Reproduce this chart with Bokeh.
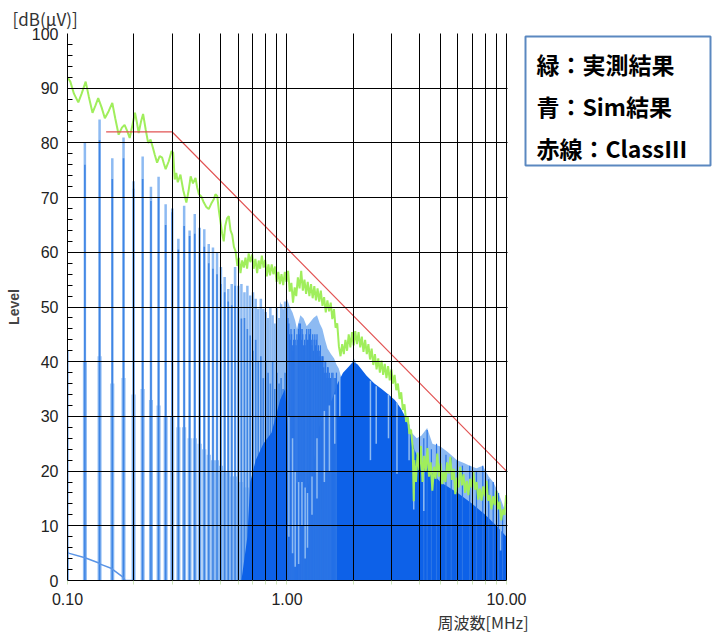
from bokeh.plotting import figure
from bokeh.models import (Range1d, FixedTicker, PrintfTickFormatter, Title, Label, BoxAnnotation)
from bokeh.embed import file_html
from bokeh.resources import INLINE

# ---------------- data ----------------
limit_freq = [0.15, 0.30, 10.0]
limit_db = [82.0, 82.0, 20.0]

meas_freq = [0.100, 0.103, 0.107, 0.112, 0.116, 0.121, 0.125, 0.130, 0.134, 0.138, 0.143, 0.148, 0.154, 0.160,
             0.165, 0.171, 0.177, 0.182, 0.187, 0.192, 0.197, 0.203, 0.207, 0.211, 0.216, 0.221, 0.227, 0.233,
             0.239, 0.245, 0.250, 0.256, 0.263, 0.270, 0.275, 0.280, 0.289, 0.298, 0.303, 0.308, 0.313, 0.318,
             0.327, 0.337, 0.348, 0.356, 0.364, 0.373, 0.383, 0.390, 0.397, 0.407, 0.418, 0.429, 0.440, 0.452,
             0.464, 0.472, 0.481, 0.490, 0.498,
             0.506, 0.515, 0.523, 0.533, 0.543, 0.553, 0.563, 0.573, 0.583, 0.594, 0.604, 0.614, 0.625, 0.636,
             0.647, 0.658, 0.669, 0.681, 0.694, 0.705, 0.718, 0.731, 0.743, 0.755, 0.768, 0.782, 0.795, 0.809,
             0.823, 0.837, 0.852, 0.867, 0.882, 0.897, 0.913, 0.928, 0.944, 0.961, 0.978, 0.994, 1.012, 1.029,
             1.047, 1.065, 1.084, 1.102, 1.121, 1.141, 1.161, 1.181, 1.201, 1.222, 1.243, 1.265, 1.287, 1.309,
             1.332, 1.355, 1.378, 1.402, 1.426, 1.451, 1.476, 1.502, 1.528, 1.555, 1.582, 1.609, 1.637, 1.665,
             1.694, 1.724, 1.754, 1.784, 1.815, 1.846, 1.878, 1.911, 1.944, 1.978, 2.012, 2.047, 2.083, 2.119,
             2.156, 2.193, 2.231, 2.270, 2.310, 2.349, 2.390, 2.431, 2.473, 2.516, 2.560, 2.605, 2.650, 2.696,
             2.743, 2.790, 2.839, 2.888, 2.938, 2.989, 3.041, 3.093, 3.147, 3.202, 3.257, 3.314, 3.371, 3.430,
             3.490, 3.550, 3.612, 3.674, 3.738, 3.780, 3.803, 3.869, 3.936, 4.004, 4.074, 4.144, 4.216, 4.289,
             4.364, 4.439, 4.516, 4.595, 4.675, 4.756, 4.838, 4.922, 5.008, 5.094, 5.183, 5.273, 5.364, 5.457,
             5.552, 5.648, 5.746, 5.846, 5.947, 6.050, 6.155, 6.262, 6.371, 6.481, 6.594, 6.708, 6.825, 6.943,
             7.063, 7.186, 7.311, 7.437, 7.567, 7.698, 7.832, 7.968, 8.106, 8.247, 8.390, 8.536, 8.683, 8.834,
             8.987, 9.143, 9.302, 9.463, 9.627, 9.794, 9.964, 10.0]
meas_db = [92.0, 91.2, 89.0, 87.4, 89.0, 91.2, 88.5, 85.5, 86.8, 88.2, 86.5, 84.5, 85.8, 87.3,
           84.5, 81.5, 82.8, 83.3, 82.2, 80.9, 83.0, 85.5, 83.8, 81.8, 83.8, 85.3, 82.5, 80.0,
           80.6, 79.1, 77.8, 76.4, 77.6, 77.3, 76.2, 75.2, 76.6, 78.5, 78.2, 73.3, 74.5, 72.8,
           74.2, 71.3, 69.1, 71.2, 73.9, 72.6, 73.6, 71.8, 70.6, 70.2, 69.1, 68.3, 67.9, 68.9,
           69.7, 70.6, 70.3, 67.5, 65.5,
           63.5, 62.0, 64.8, 66.2, 66.6, 64.0, 63.2, 61.0, 60.2, 57.5, 59.0, 56.2, 58.5, 57.2,
           59.0, 57.0, 59.8, 58.2, 59.6, 57.0, 58.8, 56.2, 58.5, 57.0, 59.4, 57.2, 58.6, 55.6,
           57.8, 55.8, 57.8, 56.0, 57.4, 54.6, 56.4, 54.2, 56.0, 54.0, 56.4, 54.6, 56.6, 52.8,
           54.4, 50.8, 53.6, 52.0, 55.4, 53.4, 56.6, 53.0, 55.0, 52.4, 54.6, 52.0, 54.2, 51.6,
           53.8, 51.2, 53.4, 51.0, 53.0, 50.2, 51.8, 49.0, 51.2, 49.2, 50.8, 47.8, 49.6, 46.2,
           47.0, 42.8, 41.0, 43.2, 41.4, 44.0, 42.0, 45.0, 42.6, 45.4, 43.0, 45.6, 43.2, 45.4,
           42.6, 44.6, 41.8, 44.0, 41.4, 43.2, 40.4, 42.4, 39.4, 41.4, 38.6, 40.6, 38.0, 40.2,
           37.6, 39.6, 37.0, 39.2, 36.6, 38.6, 36.0, 37.6, 34.8, 36.0, 33.2, 34.4, 31.2, 32.2,
           29.0, 30.0, 26.8, 27.6, 24.4, 14.5, 22.0, 18.0, 23.4, 20.2, 24.6, 18.0, 22.8, 20.0,
           24.2, 19.0, 21.6, 16.4, 20.8, 18.6, 23.2, 19.0, 21.4, 17.6, 20.0, 18.0, 21.6, 19.6,
           22.6, 18.4, 20.4, 15.8, 18.8, 17.0, 20.8, 17.4, 19.4, 16.0, 18.2, 15.6, 18.6, 17.0,
           19.8, 16.6, 18.0, 14.8, 16.8, 14.6, 17.2, 15.4, 18.2, 14.6, 15.6, 13.0, 15.4, 13.8,
           16.4, 13.0, 14.4, 11.0, 13.0, 12.0, 15.6, 14.0]

harm_freq = [0.10, 0.12, 0.14, 0.16, 0.18, 0.20, 0.22, 0.24, 0.26, 0.28, 0.30, 0.32, 0.34, 0.36, 0.38,
             0.40, 0.42, 0.44, 0.46, 0.48, 0.50, 0.52, 0.54, 0.56, 0.58, 0.60, 0.62, 0.64, 0.66, 0.68,
             0.70, 0.72, 0.74, 0.76, 0.78, 0.80, 0.82, 0.84, 0.86, 0.88, 0.90, 0.92, 0.94, 0.96, 0.98]
harm_peak = [42.0, 80.0, 84.3, 77.2, 81.0, 73.0, 77.5, 72.0, 73.8, 68.8, 68.0, 62.5, 68.5, 64.0, 67.0,
             64.5, 64.2, 61.5, 60.9, 60.0, 57.3, 55.5, 53.3, 54.2, 57.3, 53.9, 54.2, 52.7, 53.9, 52.1,
             52.7, 51.5, 49.7, 51.5, 49.7, 49.1, 48.0, 50.0, 48.5, 47.0, 50.0, 48.0, 50.5, 49.0, 51.0]
harm_avg = [6.0, 76.0, 80.5, 73.4, 77.2, 71.6, 73.4, 69.4, 70.0, 65.0, 67.3, 60.5, 64.8, 63.0, 63.4,
            60.0, 61.0, 58.0, 57.0, 56.0, 54.2, 52.7, 51.0, 50.3, 53.9, 50.0, 47.9, 48.0, 46.0, 44.8,
            42.0, 44.0, 40.0, 41.0, 37.0, 40.0, 38.0, 36.0, 40.0, 35.0, 38.0, 36.0, 37.0, 35.0, 38.0]
harm_skirt = [0.0, 40.0, 41.0, 36.0, 37.0, 34.0, 35.0, 33.0, 32.0, 30.0, 30.0, 28.0, 28.0, 26.0, 26.0,
              25.0, 24.0, 23.0, 22.0, 22.0, 21.0, 20.0, 20.0, 19.0, 19.0, 18.0, 18.0, 17.0, 17.0, 16.0,
              16.0, 15.0, 15.0, 14.0, 14.0, 14.0, 13.0, 13.0, 13.0, 12.0, 12.0, 12.0, 11.0, 11.0, 11.0]

base_freq = [0.100, 0.101, 0.119, 0.121, 0.139, 0.141, 0.159, 0.161, 0.179, 0.183, 0.20]
base_db = [5.2, 5.0, 4.2, 4.1, 3.2, 3.0, 2.2, 2.0, 0.6, 0.0, 0.0]

env_freq = [0.93, 0.96, 1.00, 1.03, 1.06, 1.09, 1.11, 1.15, 1.19, 1.23, 1.28, 1.32, 1.37, 1.41, 1.45,
            1.49, 1.53, 1.58, 1.64, 1.68, 1.72, 1.77, 1.81, 1.88, 1.95, 2.02, 2.08, 2.16, 2.24, 2.32,
            2.40, 2.49, 2.58, 2.67, 2.76, 2.86, 2.99, 3.12, 3.25, 3.40, 3.53, 3.70, 3.90, 4.10, 4.35,
            4.60, 5.00, 5.40, 5.96, 6.40, 6.80, 7.30, 7.80, 8.30, 8.70, 9.20, 9.60, 10.0]
env_db = [51.0, 49.5, 51.5, 50.0, 49.0, 47.5, 46.0, 48.5, 47.9, 46.5, 47.3, 48.0, 48.5, 47.0, 46.0,
          44.0, 42.4, 41.5, 40.6, 39.5, 38.8, 37.0, 35.2, 37.0, 38.8, 40.6, 39.5, 38.2, 37.5, 36.4,
          35.5, 34.5, 34.0, 33.3, 32.8, 32.1, 31.8, 31.5, 31.0, 30.5, 29.5, 27.0, 26.0, 26.5, 27.9,
          25.0, 24.5, 23.5, 22.0, 21.5, 21.0, 20.5, 21.0, 19.0, 18.0, 16.0, 14.0, 12.0]

hf_freq = [1.000, 1.010, 1.020, 1.028, 1.035, 1.043, 1.050, 1.058, 1.065, 1.072, 1.080, 1.090, 1.100,
           1.110, 1.120, 1.128, 1.135, 1.143, 1.150, 1.158, 1.165, 1.173, 1.180, 1.188, 1.195, 1.203,
           1.210, 1.220, 1.230, 1.240, 1.250, 1.258, 1.265, 1.273, 1.280, 1.290, 1.300, 1.310, 1.320,
           1.330, 1.340, 1.350, 1.360, 1.370, 1.380, 1.390, 1.400, 1.410, 1.420, 1.430, 1.440, 1.450,
           1.460, 1.470, 1.480, 1.490, 1.500, 1.510, 1.520, 1.530, 1.540, 1.550, 1.560, 1.570, 1.580,
           1.600, 1.620, 1.640, 1.660, 1.680,
           4.20, 4.35, 4.55, 4.80, 5.00, 5.30, 5.60, 5.96, 6.30, 6.80, 7.30, 7.80, 8.30, 8.70, 9.20, 9.60]
hf_top = [50.0, 48.0, 47.0, 45.0, 44.0, 46.0, 45.0, 43.0, 42.0, 44.0, 46.0, 44.0, 43.0,
          45.0, 44.0, 46.0, 47.0, 45.0, 47.0, 46.0, 44.0, 46.0, 45.0, 43.0, 42.0, 44.0,
          43.0, 45.0, 46.0, 44.0, 44.0, 46.0, 45.0, 44.0, 46.0, 44.0, 43.0, 45.0, 42.0,
          44.0, 45.0, 43.0, 44.0, 45.0, 42.0, 43.0, 41.0, 42.0, 43.0, 41.0, 40.0, 41.0,
          41.0, 39.0, 38.0, 40.0, 40.0, 38.0, 37.0, 39.0, 39.0, 37.0, 38.0, 37.0, 37.0,
          38.0, 38.0, 37.0, 37.0, 38.0,
          26.0, 27.5, 24.0, 25.0, 24.5, 23.0, 22.5, 22.0, 21.0, 21.0, 20.0, 21.0, 18.5, 18.0, 16.0, 13.0]

floor_freq = [0.62, 0.66, 0.68, 0.72, 0.78, 0.85, 0.93, 0.98, 1.00, 1.04, 1.10, 1.20, 1.30, 1.35, 1.40,
              1.50, 1.60, 1.70, 1.80, 1.90, 2.00, 2.10, 2.30, 2.50, 2.70, 2.90, 3.10, 3.30, 3.50, 3.65,
              3.80, 4.00, 4.50, 5.00, 6.00, 7.00, 8.00, 9.00, 10.0]
floor_db = [0.0, 8.0, 18.0, 22.0, 25.0, 27.0, 33.0, 35.0, 30.0, 22.0, 18.0, 16.0, 19.0, 24.0, 28.0,
            31.0, 33.0, 36.0, 38.0, 39.0, 40.0, 39.5, 37.5, 36.0, 35.0, 34.0, 33.0, 31.5, 29.5, 27.0,
            24.0, 22.0, 20.0, 18.0, 16.0, 14.0, 12.0, 10.0, 8.0]

gap_freq = [1.02, 1.06, 1.09, 1.13, 1.17, 1.21, 1.24, 1.30, 1.37, 1.48, 1.56, 1.65, 1.74, 2.40, 2.55,
            2.90, 3.17, 3.60, 3.78, 4.20, 9.40]
gap_low = [8.0, 5.0, 2.5, 3.0, 10.0, 4.0, 6.0, 12.0, 15.0, 18.0, 20.0, 25.0, 30.0, 22.0, 25.0,
           26.0, 19.5, 22.0, 13.0, 12.7, 5.5]
gap_top = [30.0, 26.0, 20.0, 18.0, 18.0, 17.0, 16.0, 19.0, 26.0, 31.0, 32.0, 34.0, 37.0, 36.5, 35.5,
           34.0, 32.5, 28.5, 24.0, 21.5, 10.0]

x_major = [0.1, 1.0, 10.0]
x_minor = [0.2, 0.3, 0.4, 0.5, 0.6, 0.7, 0.8, 0.9, 2.0, 3.0, 4.0, 5.0, 6.0, 7.0, 8.0, 9.0]
y_major = [0, 10, 20, 30, 40, 50, 60, 70, 80, 90, 100]
y_minor = [2, 4, 6, 8, 12, 14, 16, 18, 22, 24, 26, 28, 32, 34, 36, 38, 42, 44, 46, 48, 52, 54, 56, 58,
           62, 64, 66, 68, 72, 74, 76, 78, 82, 84, 86, 88, 92, 94, 96, 98]
x_bounds = (0.1, 10.0)

legend_lines = ["緑：実測結果", "青：Sim結果", "赤線：ClassⅢ"]

# ---------------- colours ----------------
LIGHT = "#8dbaf2"
MID = "#3f85e4"
DARK = "#0d61e8"
GREEN = "#a0ee5c"
RED = "#e25454"
CJK = "Noto Sans CJK JP"
NUM = "Liberation Sans"

# the frame runs to the right edge of the page; the data area (0.1-10 MHz) keeps its
# left 439 px and the legend sits in the remaining frame space on the right
p = figure(width=717, height=638, x_axis_type="log",
           x_range=Range1d(0.1, 91.5), y_range=Range1d(0, 100),
           output_backend="svg", toolbar_location=None,
           min_border_left=67, min_border_right=0, min_border_top=30, min_border_bottom=58)
p.outline_line_color = None
p.background_fill_color = "white"
p.border_fill_color = "white"

# blue simulation
p.varea(x=env_freq, y1=0, y2=env_db, fill_color=LIGHT)
p.segment(x0=harm_freq, y0=0, x1=harm_freq, y1=harm_skirt, line_color=LIGHT, line_width=4)
p.segment(x0=harm_freq, y0=0, x1=harm_freq, y1=harm_peak, line_color=LIGHT, line_width=2.5)
p.segment(x0=harm_freq, y0=0, x1=harm_freq, y1=harm_avg, line_color=MID, line_width=1.6)
p.varea(x=floor_freq, y1=0, y2=floor_db, fill_color=DARK)
p.segment(x0=hf_freq, y0=0, x1=hf_freq, y1=hf_top, line_color="#2a74e6", line_width=1.2)
p.segment(x0=gap_freq, y0=gap_low, x1=gap_freq, y1=gap_top, line_color=LIGHT, line_width=1.5)
p.line(base_freq, base_db, line_color="#5b95e6", line_width=1.5)

p.line(meas_freq, meas_db, line_color=GREEN, line_width=2)
p.line(limit_freq, limit_db, line_color=RED, line_width=1.2)

# axes / grid
p.xaxis.ticker = FixedTicker(ticks=x_major, minor_ticks=x_minor)
p.xaxis.formatter = PrintfTickFormatter(format="%.2f")
p.xaxis.bounds = x_bounds
p.yaxis.ticker = FixedTicker(ticks=y_major, minor_ticks=y_minor)
for ax in (p.xaxis[0], p.yaxis[0]):
    ax.axis_line_color = "black"
    ax.major_label_text_font = NUM
    ax.major_label_text_font_size = "16px"
    ax.major_label_text_color = "#222222"
p.xaxis.major_tick_in = 0
p.xaxis.major_tick_out = 4
p.xaxis.minor_tick_in = 0
p.xaxis.minor_tick_out = 4
p.xaxis.major_tick_line_color = "#cfe6bd"
p.xaxis.minor_tick_line_color = "#cfe6bd"
p.xaxis.major_label_standoff = 8
p.yaxis.major_tick_in = 0
p.yaxis.major_tick_out = 0
p.yaxis.minor_tick_in = 5
p.yaxis.minor_tick_out = 0
p.yaxis.minor_tick_line_color = "black"
p.yaxis.major_label_standoff = 9
p.yaxis.axis_label = "Level"
p.yaxis.axis_label_text_font = NUM
p.yaxis.axis_label_text_font_style = "bold"
p.yaxis.axis_label_text_font_size = "14px"
p.yaxis.axis_label_standoff = 7

p.xgrid.grid_line_color = "black"
p.xgrid.minor_grid_line_color = "black"
p.ygrid.grid_line_color = "black"
p.ygrid.minor_grid_line_color = None
p.xgrid.level = "guide"
p.ygrid.level = "guide"

# white mask hiding the grid to the right of 10 MHz (frame space used by the legend)
p.add_layout(BoxAnnotation(left=440, left_units="screen", fill_color="white", fill_alpha=1,
                           line_color=None))

# unit texts in the side panels
p.add_layout(Title(text="[dB(μV)]", align="left", offset=-55, standoff=6,
                   text_font=CJK, text_font_size="17px", text_font_style="normal",
                   text_color="#333333"), "above")
p.add_layout(Title(text="周波数[MHz]", align="left", offset=370, standoff=0,
                   text_font=CJK, text_font_size="16px", text_font_style="normal",
                   text_color="#333333"), "below")

# legend box (screen units, relative to the frame)
p.add_layout(BoxAnnotation(left=458, right=643, top=544, bottom=415,
                           left_units="screen", right_units="screen", top_units="screen", bottom_units="screen",
                           fill_alpha=0, line_color="#5b88c0", line_width=2, line_alpha=1))
for txt, yy in zip(legend_lines, [517, 475, 433]):
    p.add_layout(Label(x=469, y=yy, x_units="screen", y_units="screen", text=txt,
                       text_font=CJK, text_font_size="23px", text_font_style="bold",
                       text_color="black", text_baseline="middle"))

open("out.html", "w").write(file_html(p, INLINE))
